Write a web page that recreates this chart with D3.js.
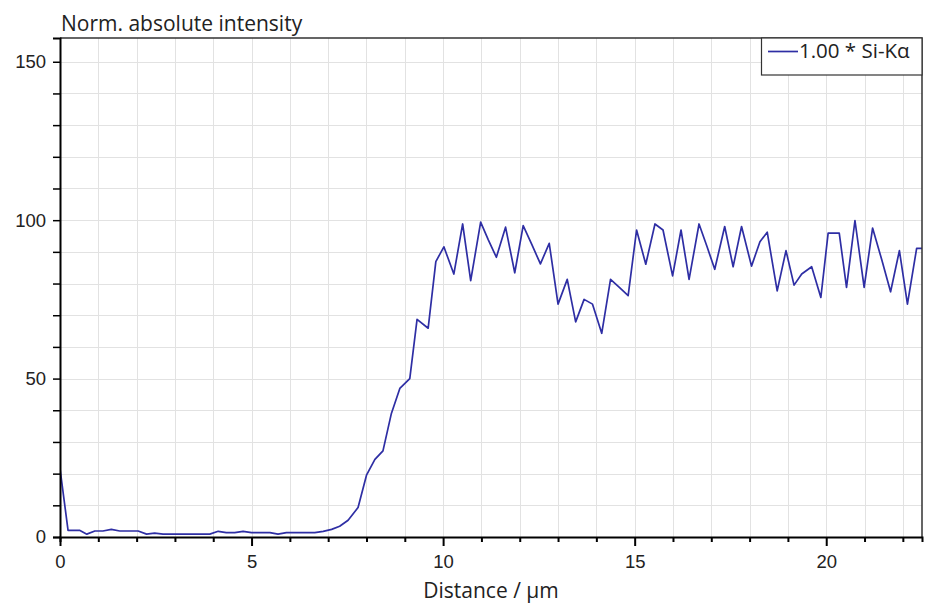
<!DOCTYPE html>
<html>
<head>
<meta charset="utf-8">
<script src="https://cdn.jsdelivr.net/npm/d3@7"></script>
<style>
  body { margin: 0; background: #fff; }
  svg { font-family: "Open Sans", "Noto Sans", sans-serif; }
  .grid line { stroke: #e2e2e2; stroke-width: 1; }
  .tick text { fill: #222; }
</style>
</head>
<body>
<svg id="svg1" width="925" height="604"></svg>
<script>
// line scan, Si-Ka, distance in um
var distance = [0.00, 0.21, 0.51, 0.70, 0.91, 1.12, 1.34, 1.56, 1.78, 2.04,
    2.26, 2.47, 2.69, 2.91, 3.13, 3.35, 3.57, 3.78, 3.91, 4.13,
    4.34, 4.56, 4.78, 5.00, 5.21, 5.48, 5.69, 5.91, 6.13, 6.39,
    6.65, 6.87, 7.09, 7.30, 7.52, 7.78, 8.00, 8.22, 8.43, 8.65,
    8.87, 9.13, 9.32, 9.61, 9.81, 10.02, 10.28, 10.51, 10.72, 10.98,
    11.18, 11.39, 11.63, 11.87, 12.09, 12.32, 12.54, 12.77, 13.00, 13.24,
    13.46, 13.68, 13.90, 14.14, 14.37, 14.60, 14.83, 15.05, 15.29, 15.53,
    15.74, 15.99, 16.21, 16.42, 16.68, 16.89, 17.09, 17.35, 17.57, 17.79,
    18.05, 18.27, 18.46, 18.72, 18.95, 19.16, 19.36, 19.62, 19.86, 20.05,
    20.34, 20.53, 20.75, 20.99, 21.21, 21.45, 21.68, 21.91, 22.12, 22.36,
    22.50];
var intensity = [21.6, 2.1, 2.1, 0.9, 1.9, 1.9, 2.4, 1.9, 1.9, 1.9,
    0.9, 1.2, 0.9, 0.9, 0.9, 0.9, 0.9, 0.9, 0.9, 1.8,
    1.4, 1.4, 1.8, 1.4, 1.4, 1.4, 0.9, 1.4, 1.4, 1.4,
    1.4, 1.8, 2.4, 3.4, 5.3, 9.3, 19.5, 24.5, 27.2, 39.0,
    46.9, 50.0, 68.7, 65.9, 86.9, 91.6, 83.0, 98.8, 80.9, 99.4,
    93.8, 88.3, 97.8, 83.4, 98.3, 92.2, 86.2, 92.7, 73.5, 81.3,
    67.9, 75.0, 73.5, 64.3, 81.3, 78.8, 76.2, 96.9, 86.1, 98.8,
    96.9, 82.4, 96.9, 81.3, 98.8, 91.6, 84.5, 98.0, 85.3, 98.0,
    85.5, 93.2, 96.2, 77.7, 90.4, 79.5, 83.0, 85.3, 75.6, 95.9,
    95.9, 78.8, 99.9, 78.8, 97.5, 87.5, 77.4, 90.4, 73.5, 91.1,
    91.1];

var xTicks = d3.range(0, 23, 1);
var xLabels = [0, 5, 10, 15, 20];
var yTicks = d3.range(0, 160, 10);
var yLabels = [0, 50, 100, 150];
var seriesName = "1.00 * Si-K\u03b1";

var svg = d3.select('#svg1');
var plotLeft = 60, plotTop = 38, plotRight = 922, plotBottom = 537;

var scaleX = d3.scaleLinear().domain([0, 22.5]).range([plotLeft, plotRight]);
var scaleY = d3.scaleLinear().domain([0, 157.5]).range([plotBottom, plotTop]);

// grid
svg.append('g').attr('class', 'grid')
    .selectAll('line.v').data(xTicks.filter(function(d){ return d > 0; }))
    .enter().append('line')
    .attr('x1', function(d){ return Math.round(scaleX(d)) + 0.5; })
    .attr('x2', function(d){ return Math.round(scaleX(d)) + 0.5; })
    .attr('y1', plotTop).attr('y2', plotBottom);
svg.append('g').attr('class', 'grid')
    .selectAll('line.h').data(yTicks.filter(function(d){ return d > 0; }))
    .enter().append('line')
    .attr('x1', plotLeft).attr('x2', plotRight)
    .attr('y1', function(d){ return Math.round(scaleY(d)) + 0.5; })
    .attr('y2', function(d){ return Math.round(scaleY(d)) + 0.5; });

// data line
svg.append('defs').append('clipPath').attr('id', 'clip')
    .append('rect').attr('x', plotLeft).attr('y', plotTop)
    .attr('width', plotRight - plotLeft).attr('height', plotBottom - plotTop);

var pts = distance.map(function(d, i){ return [d, intensity[i]]; });
svg.append('path')
    .datum(pts)
    .attr('clip-path', 'url(#clip)')
    .attr('fill', 'none')
    .attr('stroke', '#2e2ea4')
    .attr('stroke-width', 1.7)
    .attr('stroke-linejoin', 'round')
    .attr('d', d3.line()
        .x(function(d){ return scaleX(d[0]); })
        .y(function(d){ return scaleY(d[1]); }));

// frame top / right
svg.append('path')
    .attr('d', 'M' + plotLeft + ',' + plotTop + 'H' + plotRight + 'V' + plotBottom)
    .attr('fill', 'none').attr('stroke', '#333').attr('stroke-width', 1.5);

// x axis
var xAxis = svg.append('g')
    .attr('transform', 'translate(0,' + plotBottom + ')')
    .call(d3.axisBottom(scaleX).tickValues(xTicks)
        .tickSize(5).tickPadding(12)
        .tickFormat(function(d){ return xLabels.indexOf(d) >= 0 ? d : ''; }));
xAxis.select('.domain').attr('stroke', '#000').attr('stroke-width', 2);
xAxis.selectAll('.tick line').attr('stroke', '#000').attr('stroke-width', 2)
    .attr('y2', function(d){ return xLabels.indexOf(d) >= 0 ? 9 : 5; });
xAxis.selectAll('.tick text').style('font-size', '18.5px').attr('dy', '0.75em');

// y axis
var yAxis = svg.append('g')
    .attr('transform', 'translate(' + plotLeft + ',0)')
    .call(d3.axisLeft(scaleY).tickValues(yTicks)
        .tickSize(7).tickPadding(7)
        .tickFormat(function(d){ return yLabels.indexOf(d) >= 0 ? d : ''; }));
yAxis.select('.domain').attr('stroke', '#000').attr('stroke-width', 2);
yAxis.selectAll('.tick line').attr('stroke', '#000').attr('stroke-width', 1.5);
yAxis.selectAll('.tick text').style('font-size', '18.5px');

// titles
svg.append('text')
    .attr('x', 61).attr('y', 31)
    .style('font-size', '21px').attr('fill', '#222')
    .text('Norm. absolute intensity');
svg.append('text')
    .attr('x', (plotLeft + plotRight) / 2).attr('y', 598)
    .attr('text-anchor', 'middle')
    .style('font-size', '21px').attr('fill', '#222')
    .text('Distance / \u00b5m');

// legend
var lg = svg.append('g');
lg.append('rect')
    .attr('x', 761.5).attr('y', plotTop).attr('width', plotRight - 761.5).attr('height', 37)
    .attr('fill', '#fff').attr('stroke', '#333').attr('stroke-width', 1.2);
lg.append('line')
    .attr('x1', 768).attr('x2', 798).attr('y1', 51.5).attr('y2', 51.5)
    .attr('stroke', '#2e2ea4').attr('stroke-width', 1.7);
lg.append('text')
    .attr('x', 799).attr('y', 58)
    .style('font-size', '20.5px').attr('fill', '#222')
    .text(seriesName);
</script>
</body>
</html>
